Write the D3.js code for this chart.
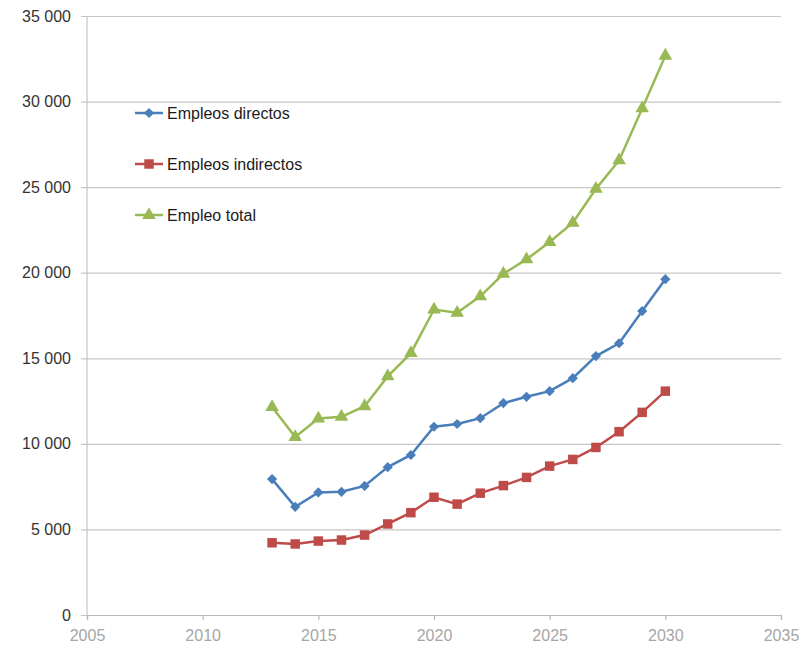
<!DOCTYPE html>
<html>
<head>
<meta charset="utf-8">
<script src="https://cdn.jsdelivr.net/npm/d3@7"></script>
<style>
  body { margin: 0; background: #fff; }
  svg { display: block; font-family: "Liberation Sans", Arial, sans-serif; }
</style>
</head>
<body>
<svg id="chart"></svg>
<script>
const years = [2013, 2014, 2015, 2016, 2017, 2018, 2019, 2020, 2021, 2022, 2023, 2024, 2025, 2026, 2027, 2028, 2029, 2030];
const directos = [7940, 6320, 7160, 7200, 7540, 8640, 9350, 11000, 11160, 11500, 12380, 12750, 13080, 13840, 15130, 15880, 17760, 19620];
const indirectos = [4220, 4150, 4320, 4380, 4670, 5320, 5980, 6880, 6480, 7120, 7560, 8040, 8700, 9090, 9790, 10710, 11840, 13080];
const total = [12150, 10400, 11480, 11580, 12200, 13940, 15300, 17850, 17660, 18620, 19940, 20780, 21790, 22920, 24900, 26560, 29600, 32680];
const seriesNames = ["Empleos directos", "Empleos indirectos", "Empleo total"];
const xTicks = [2005, 2010, 2015, 2020, 2025, 2030, 2035];
const yTicks = [0, 5000, 10000, 15000, 20000, 25000, 30000, 35000];

const width = 799;
const height = 648;
const margin = { top: 16, right: 18, bottom: 33, left: 87 };

const svg = d3.select("#chart").attr("width", width).attr("height", height);

const x = d3.scaleLinear().domain([2005, 2035]).range([margin.left, width - margin.right]);
const y = d3.scaleLinear().domain([0, 35000]).range([height - margin.bottom, margin.top]);

const fmt = (v) => d3.format(",")(v).replace(/,/g, " ");

// gridlines + y labels
const yAxis = svg.append("g")
  .attr("transform", `translate(${margin.left},0)`)
  .call(d3.axisLeft(y).tickValues(yTicks).tickSize(6).tickPadding(10).tickFormat(fmt));
yAxis.select(".domain").remove();
yAxis.selectAll(".tick line")
  .attr("x2", width - margin.right - margin.left)
  .attr("x1", -6)
  .attr("stroke", "#c6c6c6")
  .attr("stroke-width", 1.2);
yAxis.selectAll(".tick text")
  .attr("fill", "#333")
  .style("font-size", "16px");

// y axis line
svg.append("line")
  .attr("x1", margin.left).attr("x2", margin.left)
  .attr("y1", y(35000)).attr("y2", y(0))
  .attr("stroke", "#c6c6c6").attr("stroke-width", 1.2);

// x axis
const xAxis = svg.append("g")
  .attr("transform", `translate(0,${y(0)})`)
  .call(d3.axisBottom(x).tickValues(xTicks).tickSize(5).tickPadding(10).tickFormat(d3.format("d")));
xAxis.select(".domain").attr("stroke", "#b8b8b8").attr("stroke-width", 1.2);
xAxis.selectAll(".tick line").attr("stroke", "#b8b8b8").attr("stroke-width", 1.2);
xAxis.selectAll(".tick text")
  .attr("fill", "#a6a6a6")
  .style("font-size", "16px");

// markers: diamond is a rotated square
const series = [
  { name: seriesNames[0], values: directos, color: "#4a7ebb", marker: d3.symbolSquare, size: 52, rot: 45 },
  { name: seriesNames[1], values: indirectos, color: "#be4b48", marker: d3.symbolSquare, size: 90, rot: 0 },
  { name: seriesNames[2], values: total, color: "#98b954", marker: d3.symbolTriangle, size: 80, rot: 0 },
];

const line = d3.line().x((d) => x(d[0])).y((d) => y(d[1]));

series.forEach((s) => {
  const pts = years.map((yr, i) => [yr, s.values[i]]);
  svg.append("path")
    .datum(pts)
    .attr("d", line)
    .attr("fill", "none")
    .attr("stroke", s.color)
    .attr("stroke-width", 2.5);
  svg.selectAll(null)
    .data(pts)
    .enter()
    .append("path")
    .attr("d", d3.symbol().type(s.marker).size(s.size))
    .attr("transform", (d) => `translate(${x(d[0])},${y(d[1])}) rotate(${s.rot})`)
    .attr("fill", s.color);
});

// legend
const legend = svg.append("g").attr("transform", "translate(135,113)");
series.forEach((s, i) => {
  const g = legend.append("g").attr("transform", `translate(0,${i * 51})`);
  g.append("line").attr("x1", 0).attr("x2", 28).attr("stroke", s.color).attr("stroke-width", 2.5);
  g.append("path")
    .attr("d", d3.symbol().type(s.marker).size(s.size))
    .attr("transform", `translate(14,0) rotate(${s.rot})`)
    .attr("fill", s.color);
  g.append("text")
    .attr("x", 32)
    .attr("y", 0)
    .attr("dy", "0.35em")
    .attr("fill", "#1a1a1a")
    .style("font-size", "16px")
    .text(s.name);
});
</script>
</body>
</html>
